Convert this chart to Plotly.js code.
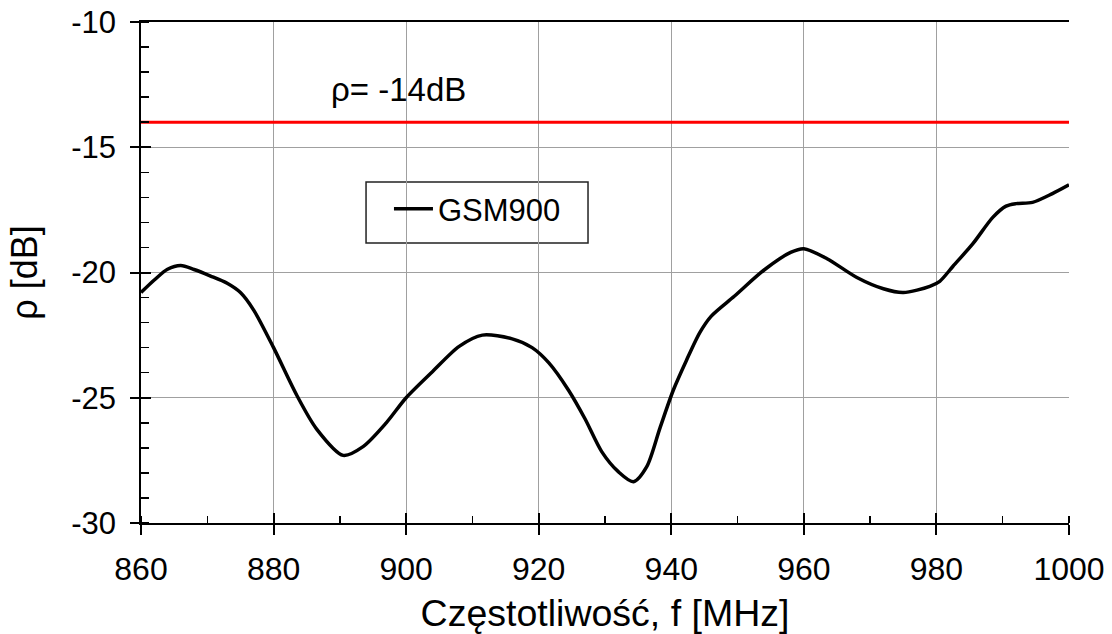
<!DOCTYPE html>
<html>
<head>
<meta charset="utf-8">
<script src="https://cdn.plot.ly/plotly-3.0.1.min.js"></script>
<style>html,body{margin:0;padding:0;background:#fff;}#chart{width:1112px;height:634px;}</style>
</head>
<body>
<div id="chart"></div>
<script>
// Data
const freqMHz = [860, 862, 864, 866, 868, 870.5, 873, 875, 877, 880, 883.5, 886.5, 890.5, 893.5, 897, 900,
  904, 908, 911.5, 916, 919, 921.5, 924.5, 927, 929.5, 932, 934.3, 936.3, 938.3, 940.3, 942.3, 944.3,
  946, 949.5, 954, 958, 960, 963.5, 968, 972, 975, 979, 980.5, 982.5, 985.5, 988.5, 990.5, 992, 994.5, 997.5, 1000];
const gsm900 = [-20.8, -20.3, -19.87, -19.72, -19.88, -20.14, -20.43, -20.8, -21.5, -23.0, -24.9, -26.25, -27.3, -26.95, -26.0, -25.0,
  -23.95, -22.95, -22.5, -22.65, -23.0, -23.6, -24.7, -25.85, -27.15, -27.95, -28.35, -27.75, -26.2, -24.7, -23.5, -22.4,
  -21.75, -20.95, -19.9, -19.2, -19.05, -19.45, -20.2, -20.65, -20.8, -20.55, -20.35, -19.75, -18.85, -17.8, -17.35, -17.25, -17.2, -16.85, -16.5];
const thresholdX = [860, 1000];
const thresholdY = [-14, -14];
const thresholdLabel = 'ρ= -14dB';
const seriesName = 'GSM900';
const xTitle = 'Częstotliwość, f [MHz]';
const yTitle = 'ρ [dB]';
const xTickVals = [860, 880, 900, 920, 940, 960, 980, 1000];
const xTickText = ['860', '880', '900', '920', '940', '960', '980', '1000'];
const yTickVals = [-30, -25, -20, -15, -10];
const yTickText = ['-30', '-25', '-20', '-15', '-10'];

const FONT = 'Liberation Sans, Arial, sans-serif';
const xRange = [860, 1000];
const yRange = [-30, -10];

const traces = [
  {x: freqMHz, y: gsm900, type: 'scatter', mode: 'lines', name: seriesName,
   line: {color: '#000', width: 3.5, shape: 'spline', smoothing: 0.8}, xaxis: 'x', yaxis: 'y'},
  {x: thresholdX, y: thresholdY, type: 'scatter', mode: 'lines', showlegend: false, hoverinfo: 'skip',
   line: {color: '#ff0000', width: 3}, xaxis: 'x2', yaxis: 'y2'}
];

const layout = {
  width: 1112, height: 634,
  margin: {l: 141, r: 43, t: 22, b: 111},
  paper_bgcolor: '#fff', plot_bgcolor: '#fff',
  font: {family: FONT, color: '#000', size: 32},
  showlegend: true,
  legend: {x: 0.2672, y: 0.6806, xanchor: 'left', yanchor: 'top', bgcolor: 'rgba(0,0,0,0)',
    borderwidth: 0, itemwidth: 39, font: {family: FONT, size: 31, color: '#000'}},
  xaxis: {range: xRange, tick0: 860, dtick: 20, showgrid: true, gridcolor: '#a0a0a0', gridwidth: 1,
    zeroline: false, showline: true, linecolor: '#000', linewidth: 2, mirror: true,
    ticks: 'outside', ticklen: 10, tickwidth: 2, tickcolor: '#000', showticklabels: false,
    minor: {dtick: 10, ticks: 'inside', ticklen: 7, tickwidth: 1.5, tickcolor: '#000', showgrid: false}},
  yaxis: {range: yRange, tick0: -30, dtick: 5, showgrid: true, gridcolor: '#a0a0a0', gridwidth: 1,
    zeroline: false, showline: true, linecolor: '#000', linewidth: 2,
    ticks: 'outside', ticklen: 9, tickwidth: 2, tickcolor: '#000', showticklabels: false,
    minor: {dtick: 1, ticks: 'inside', ticklen: 8, tickwidth: 1.5, tickcolor: '#000', showgrid: false}},
  xaxis2: {range: xRange, overlaying: 'x', anchor: 'y2', side: 'bottom', tickmode: 'array',
    tickvals: xTickVals, ticktext: xTickText, showgrid: false, zeroline: false, showline: false,
    ticks: 'inside', ticklen: 10, tickwidth: 2, tickcolor: '#000', ticklabelstandoff: 24,
    tickfont: {family: FONT, size: 32, color: '#000'}, automargin: false,
    title: {text: xTitle, font: {family: FONT, size: 37.5, color: '#000'}}},
  yaxis2: {range: yRange, overlaying: 'y', anchor: 'x2', side: 'left', tickmode: 'array',
    tickvals: yTickVals, ticktext: yTickText, showgrid: false, zeroline: false, showline: false,
    ticks: 'inside', ticklen: 10, tickwidth: 2, tickcolor: '#000', ticklabelstandoff: 24,
    tickfont: {family: FONT, size: 31, color: '#000'}, automargin: 'left',
    title: {text: yTitle, standoff: 22, font: {family: FONT, size: 36, color: '#000'}}},
  shapes: [{type: 'rect', xref: 'paper', yref: 'paper', x0: 0.2425, x1: 0.4817, y0: 0.5589, y1: 0.6806,
    line: {color: '#222', width: 1.5}, fillcolor: '#fff', layer: 'below'}],
  annotations: [{text: thresholdLabel, x: 898.9, y: -12.7, xref: 'x', yref: 'y', showarrow: false,
    font: {family: FONT, size: 33, color: '#000'}, xanchor: 'center', yanchor: 'middle'}]
};

Plotly.newPlot('chart', traces, layout, {staticPlot: true, displayModeBar: false});
</script>
</body>
</html>
